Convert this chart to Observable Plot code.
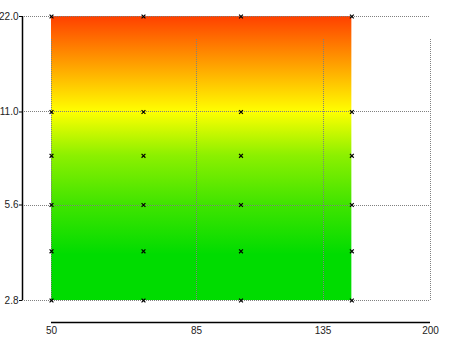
<!DOCTYPE html>
<html>
<head>
<meta charset="utf-8">
<script src="https://cdn.jsdelivr.net/npm/d3@7"></script>
<script src="https://cdn.jsdelivr.net/npm/@observablehq/plot@0.6"></script>
<style>
  html, body { margin: 0; padding: 0; background: #fff; }
  #chart svg { display: block; }
</style>
</head>
<body>
<div id="chart"></div>
<script>
const xTicks = [50, 85, 135, 200];
const yTicks = [2.8, 5.6, 11.0, 22.0];
const pointX = [50, 70, 100, 150];
const pointY = [2.8, 4, 5.6, 8, 11, 22];
const areaX = [50, 150];
const areaY = [2.8, 22];
const gradY = [2.8, 3.9, 5.6, 8, 11, 15.5, 22];
const gradColors = ["#00dc00", "#00dc00", "#40e400", "#8cf000", "#ffff00", "#ffa000", "#ff4000"];

const points = pointX.flatMap(x => pointY.map(y => ({x, y})));
const grid = "#808080";

const plot = Plot.plot({
  width: 450,
  height: 337,
  marginLeft: 51,
  marginRight: 20,
  marginTop: 16,
  marginBottom: 37,
  style: {fontFamily: "'Liberation Sans', Arial, sans-serif", fontSize: "10px", color: "#222", background: "#fff"},
  x: {type: "log", domain: [50, 200]},
  y: {type: "log", domain: [2.8, 22]},
  marks: [
    Plot.rect([{}], {x1: areaX[0], x2: areaX[1], y1: areaY[0], y2: areaY[1], fill: "url(#grad)", className: "gradrect"}),
    Plot.ruleX(xTicks, {y1: 2.8, y2: 22, insetBottom: -22, stroke: grid, strokeWidth: 1, strokeDasharray: "1 1", className: "vgrid"}),
    Plot.ruleY(yTicks, {x1: 50, x2: 200, insetLeft: -29, stroke: grid, strokeWidth: 1, strokeDasharray: "1 1", className: "hgrid"}),
    Plot.ruleY([2.8], {x1: 50, x2: 200, dy: 22, stroke: "#000", strokeWidth: 1.5}),
    Plot.ruleX([50], {y1: 2.8, y2: 22, dx: -29, stroke: "#000", strokeWidth: 1.5}),
    Plot.axisY({ticks: yTicks, anchor: "left", dx: -29, tickSize: 3, tickPadding: 1, tickFormat: d3.format(".1f"), stroke: "#000", fill: "#222", label: null}),
    Plot.axisX({ticks: xTicks, anchor: "bottom", dy: 22, tickSize: 0, tickPadding: 4, tickFormat: d => String(d), fill: "#222", label: null}),
    Plot.dot(points, {x: "x", y: "y", symbol: "times", r: 1.9, stroke: "#000", strokeWidth: 1.2})
  ]
});

// snap grid lines to whole pixels so the dotted lines render crisply
plot.querySelectorAll(".vgrid line").forEach(l => {
  const x = Math.round(+l.getAttribute("x1"));
  l.setAttribute("x1", x); l.setAttribute("x2", x);
  l.setAttribute("y1", Math.round(+l.getAttribute("y1")));
  l.setAttribute("y2", Math.round(+l.getAttribute("y2")));
});
plot.querySelectorAll(".hgrid line").forEach(l => {
  const y = Math.round(+l.getAttribute("y1"));
  l.setAttribute("y1", y); l.setAttribute("y2", y);
  l.setAttribute("x1", Math.round(+l.getAttribute("x1")));
  l.setAttribute("x2", Math.round(+l.getAttribute("x2")));
});

const ys = plot.scale("y");
const y0 = ys.apply(areaY[1]);
const y1 = ys.apply(areaY[0]);
const ns = "http://www.w3.org/2000/svg";
const defs = document.createElementNS(ns, "defs");
const lg = document.createElementNS(ns, "linearGradient");
lg.setAttribute("id", "grad");
lg.setAttribute("gradientUnits", "userSpaceOnUse");
lg.setAttribute("x1", 0); lg.setAttribute("x2", 0);
lg.setAttribute("y1", y0); lg.setAttribute("y2", y1);
gradY.slice().reverse().forEach((v, i) => {
  const c = gradColors[gradColors.length - 1 - i];
  const st = document.createElementNS(ns, "stop");
  st.setAttribute("offset", (ys.apply(v) - y0) / (y1 - y0));
  st.setAttribute("stop-color", c);
  lg.appendChild(st);
});
defs.appendChild(lg);
plot.insertBefore(defs, plot.firstChild);
plot.querySelectorAll(".gradrect rect").forEach(r => r.setAttribute("fill", "url(#grad)"));
document.getElementById("chart").appendChild(plot);
</script>
</body>
</html>
